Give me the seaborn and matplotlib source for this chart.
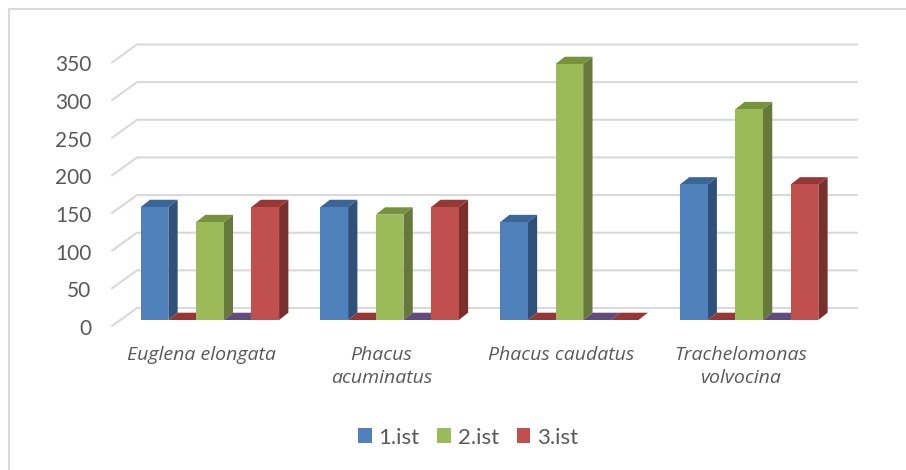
import matplotlib
matplotlib.use("Agg")
import matplotlib.pyplot as plt
import pandas as pd
import seaborn as sns
from matplotlib.lines import Line2D
from matplotlib.patches import Polygon
from matplotlib.transforms import ScaledTranslation, blended_transform_factory, offset_copy

species = ["Euglena elongata", "Phacus\nacuminatus", "Phacus caudatus", "Trachelomonas\nvolvocina"]
series_names = ["1.ist", "prazno A", "2.ist", "prazno B", "3.ist"]
first = [150, 150, 130, 180]
empty_a = [0, 0, 0, 0]
second = [130, 140, 340, 280]
empty_b = [0, 0, 0, 0]
third = [150, 150, 0, 180]
y_ticks = [0, 50, 100, 150, 200, 250, 300, 350]

front_colors = ["#4F81BD", "#C0504D", "#9BBB59", "#8064A2", "#C0504D"]
side_colors = ["#2F5079", "#7A2F2D", "#66783A", "#55407A", "#7A2F2D"]
top_colors = ["#3B6594", "#943735", "#76923C", "#624C7E", "#943735"]
grid_color = "#D9D9D9"
text_color = "#595959"

sns.set_theme(style="white")
plt.rcParams["font.family"] = ["Lato", "DejaVu Sans"]

df = pd.DataFrame({
    "species": species * 5,
    "series": [name for name in series_names for _ in species],
    "count": first + empty_a + second + empty_b + third,
})

fig = plt.figure(figsize=(9.06, 4.70), dpi=100, facecolor="white")
ax = fig.add_axes([120 / 906, 150 / 470, 719 / 906, 263.5 / 470])

sns.barplot(
    data=df, x="species", y="count", hue="series", order=species, hue_order=series_names,
    palette=front_colors, width=0.77, gap=0, saturation=1, legend=False, ax=ax, zorder=4,
    linewidth=0, edgecolor="none",
)
ax.set_xlim(-0.5, 3.5)
ax.set_ylim(0, 350)
ax.set_xlabel("")
ax.set_ylabel("")
ax.patch.set_visible(False)
sns.despine(ax=ax, left=True, bottom=True)

# Receding depth of the bars, in pixels.
DEPTH_X, DEPTH_Y = 9.3, 7.3


def depth_face(p0, p1, color, zorder):
    """Parallelogram that extends the edge p0-p1 (data units) backwards."""
    a, b = ax.transData.transform([p0, p1])
    shift = (DEPTH_X, DEPTH_Y)
    corners = [a, b, b + shift, a + shift]
    ax.add_patch(Polygon(ax.transData.inverted().transform(corners), closed=True,
                         facecolor=color, edgecolor="none", clip_on=False, zorder=zorder))


for s, container in enumerate(ax.containers):
    for bar in container:
        x0, x1 = bar.get_x(), bar.get_x() + bar.get_width()
        h = bar.get_height()
        depth_face((x1, 0), (x1, h), side_colors[s], 3)
        depth_face((x0, h), (x1, h), top_colors[s], 3)

# Floor and back wall grid: each line runs from the front edge to the back, then across.
left = blended_transform_factory(ax.transAxes, ax.transData)
for v in y_ticks:
    front = offset_copy(left, fig=fig, x=-8, y=-6, units="dots")
    back = offset_copy(left, fig=fig, x=17, y=12, units="dots")
    fx, fy = front.transform((0, v))
    bx, by = back.transform((0, v))
    ex, ey = offset_copy(left, fig=fig, x=18, y=12, units="dots").transform((1, v))
    fig.add_artist(Line2D(
        [fx / 906, bx / 906, ex / 906], [fy / 470, by / 470, ey / 470],
        color=grid_color, lw=1.5, zorder=0, solid_joinstyle="miter",
    ))

ax.set_yticks(y_ticks)
ax.tick_params(axis="y", length=0, pad=20.5, labelsize=15, labelcolor=text_color)
for label in ax.get_yticklabels():
    label.set_transform(label.get_transform() + ScaledTranslation(0, -5 / 72, fig.dpi_scale_trans))

ax.tick_params(axis="x", length=0, pad=18.5, labelsize=14, labelcolor=text_color)
for label in ax.get_xticklabels():
    label.set_family(["Open Sans", "DejaVu Sans"])
    label.set_fontstyle("italic")
    label.set_linespacing(1.4)
    label.set_transform(label.get_transform() + ScaledTranslation(-6 / 72, 0, fig.dpi_scale_trans))

handles = [ax.containers[i][0] for i in (0, 2, 4)]
ax.legend(
    handles, ["1.ist", "2.ist", "3.ist"], ncol=3, frameon=False, loc="center",
    bbox_to_anchor=(468 / 906, 1 - 437.5 / 470), bbox_transform=fig.transFigure,
    fontsize=16, labelcolor=text_color, handlelength=0.62, handleheight=0.62,
    handletextpad=0.3, columnspacing=0.8, borderpad=0, borderaxespad=0,
)

# Chart area outline along the left and top edges.
fig.add_artist(Line2D([9 / 906, 9 / 906, 1], [0, 1 - 8.7 / 470, 1 - 8.7 / 470],
                      color=grid_color, lw=1.5))

fig.savefig("out.png", dpi=100)
